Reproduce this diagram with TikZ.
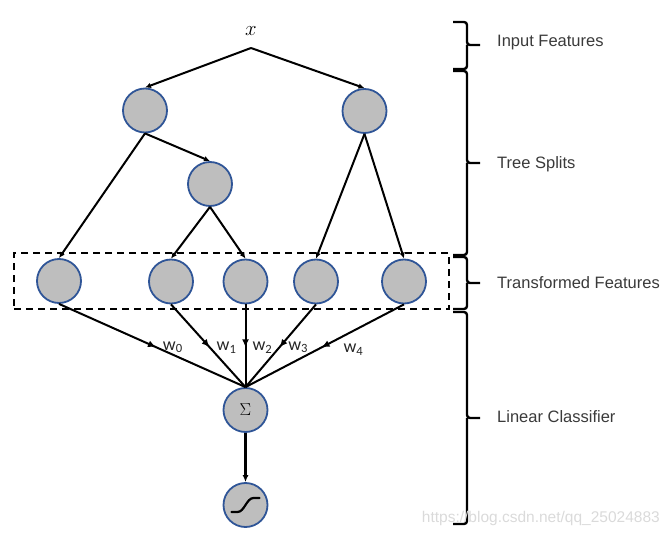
\documentclass[tikz,border=0pt]{standalone}
\usepackage{fontspec}
\setsansfont{Liberation Sans}
\newfontfamily\wfont{Carlito}
\usetikzlibrary{positioning,fit,arrows.meta,decorations.markings}
\definecolor{nodegray}{RGB}{190,190,190}
\definecolor{nodeblue}{RGB}{47,85,151}
\definecolor{labgray}{RGB}{58,58,58}
\definecolor{wmgray}{RGB}{218,218,218}
\tikzset{
	feat/.style={circle, draw=nodeblue, fill=nodegray, line width=1.8pt, minimum size=44pt, inner sep=0pt},
	split/.style={-{Latex[length=6pt,width=5.5pt]}, line width=2pt},
	wline/.style={line width=2pt, postaction={decorate},
		decoration={markings, mark=at position 0.52 with {\arrow{Latex[length=8pt,width=7pt]}}}},
	wlab/.style={font=\wfont\fontsize{18}{20}\selectfont, text=black!85, anchor=west, inner sep=1pt},
	brc/.style={line width=2.4pt, rounded corners=3pt},
	lab/.style={font=\sffamily\fontsize{16.5}{20}\selectfont, text=labgray, anchor=west, inner sep=0pt},
	wmark/.style={font=\sffamily\fontsize{15.5}{18}\selectfont, text=wmgray, anchor=east, inner sep=0pt},
}
\begin{document}
\begin{tikzpicture}[x=1pt, y=-1pt, on grid]
	\useasboundingbox (0,0) rectangle (669,537);
	% input and tree splits
	\node (x) at (251,31) {\fontsize{20}{24}\selectfont$x$};
	\coordinate [below=17pt of x] (fork);
	\node (a) [feat, below left=79.5pt and 106pt of x] {};
	\node (b) [feat, below right=80pt and 113.5pt of x] {};
	\node (c) [feat, below right=73.5pt and 65pt of a] {};
	% transformed features
	\node (l0) [feat, below left=170.5pt and 86pt of a] {};
	\node (l1) [feat, below left=97.5pt and 39pt of c] {};
	\node (l2) [feat, below right=97.5pt and 35.5pt of c] {};
	\node (l3) [feat, below left=170.5pt and 48.5pt of b] {};
	\node (l4) [feat, below right=170.5pt and 39.5pt of b] {};
	\node (box) [draw, dashed, dash pattern=on 7pt off 5pt, line width=2pt, inner xsep=22pt, inner ysep=5pt, fit=(l0)(l4)] {};
	% linear classifier
	\node (sum) [feat, below=128.5pt of l2] {\fontsize{18}{20}\selectfont$\Sigma$};
	\node (out) [feat, below=95pt of sum] {};
	\draw [line width=2.2pt, line cap=round] ([shift={(-14pt,-7pt)}]out.center) -- ([shift={(-8pt,-7pt)}]out.center)
		.. controls ([shift={(-1pt,-7pt)}]out.center) and ([shift={(1pt,7pt)}]out.center) .. ([shift={(8pt,7pt)}]out.center)
		-- ([shift={(14pt,7pt)}]out.center);

	\draw [split] (fork) -- (a.north);
	\draw [split] (fork) -- (b.north);
	\draw [split] (a.south) -- (l0.north);
	\draw [split] (a.south) -- (c.north);
	\draw [split] (c.south) -- (l1.north);
	\draw [split] (c.south) -- (l2.north);
	\draw [split] (b.south) -- (l3.north);
	\draw [split] (b.south) -- (l4.north);

	\draw [wline] (l0.south) -- node [wlab, pos=0.52, xshift=5pt] {w\textsubscript{0}} (sum.north);
	\draw [wline] (l1.south) -- node [wlab, pos=0.52, xshift=5pt] {w\textsubscript{1}} (sum.north);
	\draw [wline] (l2.south) -- node [wlab, pos=0.52, xshift=5pt] {w\textsubscript{2}} (sum.north);
	\draw [wline] (l3.south) -- node [wlab, pos=0.52, xshift=7pt] {w\textsubscript{3}} (sum.north);
	\draw [wline] (l4.south) -- node [wlab, pos=0.52, xshift=20pt, yshift=-2pt] {w\textsubscript{4}} (sum.north);
	\draw [-{Latex[length=7pt,width=6pt]}, line width=2.2pt] (sum.south) -- (out.north);

	% braces
	\draw [brc] (453,22) -| (467,45) -- (480,45) (467,45) |- (453,69);
	\draw [brc] (453,71) -| (467,163) -- (480,163) (467,163) |- (453,255);
	\draw [brc] (453,257) -| (467,283) -- (480,283) (467,283) |- (453,309);
	\draw [brc] (453,312) -| (467,418) -- (480,418) (467,418) |- (453,524);
	\node (inp) [lab] at (497,43) {Input Features};
	\node (spl) [lab] at (497,164) {Tree Splits};
	\node (trf) [lab] at (497,283) {Transformed Features};
	\node (lin) [lab] at (497,417) {Linear Classifier};
	\node (wm) [wmark] at (660,518) {https://blog.csdn.net/qq\_25024883};
\end{tikzpicture}
\end{document}
